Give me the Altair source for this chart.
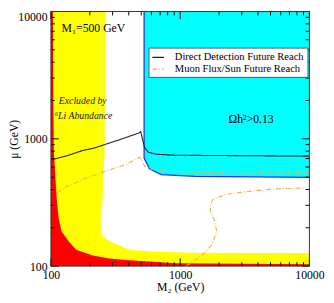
import altair as alt
import pandas as pd

# ---------------- data ----------------
# red excluded region: upper edge mu (GeV) as a function of M2 (GeV)
red_m2 = [100, 103.5, 104.4, 105.3, 109, 111, 115, 121, 137, 157, 211, 284, 408, 925, 10000]
red_mu = [10000, 10000, 1906, 797, 448, 333, 235, 187, 157, 134.5, 121, 115, 111, 105.4, 103.5]

# yellow (6Li abundance) region: lower branch (filled down to mu=100)
yellow_lo_m2 = [100, 242.9, 243, 251, 284, 356, 408, 653, 1309, 10000]
yellow_lo_mu = [10000, 10000, 190.6, 171.7, 157, 141.8, 134.5, 129.9, 127.6, 126.6]
# yellow upper branch (filled up to mu=10000)
yellow_hi_m2 = [243, 251, 260, 262, 264.6]
yellow_hi_mu = [190.6, 333, 797, 1906, 10000]

# cyan (Omega h^2 > 0.13) region lower boundary
cyan_m2 = [526, 578, 713, 1309, 10000]
cyan_mu = [705, 582, 524, 507, 498]

# direct detection future reach
dd_m2 = [100, 136.7, 177, 211, 274, 356, 478, 495, 530, 569, 653, 925, 10000]
dd_mu = [681, 743, 811, 840, 916, 1000, 1110, 1140, 855, 783, 756, 743, 731]

# muon flux / sun future reach (two branches)
muon1_m2 = [111, 130, 184, 260, 388, 486, 530, 578, 778, 2624, 10000]
muon1_mu = [376, 418, 489, 553, 635, 718, 614, 582, 553, 538, 543]
muon2_m2 = [1100, 1140, 1309, 1557, 1758, 1919, 1853, 1729, 1700, 1790, 2205, 3120, 5260, 9330]
muon2_mu = [100, 102, 111, 128, 147, 187, 223, 266, 295, 333, 364, 383, 404, 411]

series_names = ["Direct Detection Future Reach", "Muon Flux/Sun Future Reach"]
tick_labels = [100, 1000, 10000]
minor_ticks = [200, 300, 400, 500, 600, 700, 800, 900, 2000, 3000, 4000, 5000, 6000, 7000, 8000, 9000]

# ---------------- chart ----------------
W, H = 265, 261
FONT = "Liberation Serif"
xs = alt.Scale(type="log", domain=[100, 10000], nice=False)
ys = alt.Scale(type="log", domain=[100, 10000], nice=False)

xaxis = alt.Axis(values=tick_labels, format="d", title="M₂ (GeV)", ticks=False, domain=False,
                 grid=False, labelFlush=False, labelOverlap=False, labelPadding=4, titlePadding=1,
                 labelFont=FONT, labelFontSize=12, titleFont=FONT, titleFontSize=12,
                 titleFontWeight="normal", labelColor="black", titleColor="black")
yaxis = alt.Axis(values=tick_labels, format="d", title="μ (GeV)", ticks=False, domain=False,
                 grid=False, labelFlush=False, labelOverlap=False, labelPadding=4,
                 labelBaseline={"condition": {"test": "datum.value >= 10000", "value": "top"}, "value": "middle"},
                 labelFont=FONT, labelFontSize=12, titleFont=FONT, titleFontSize=12,
                 titleFontWeight="normal", labelColor="black", titleColor="black",
                 titleX=-38, titleY=H / 2, titleAngle=270, titleBaseline="middle", titleAlign="center")


def X(f="x"):
    return alt.X(f"{f}:Q", scale=xs, axis=xaxis)


def Y(f="y"):
    return alt.Y(f"{f}:Q", scale=ys, axis=yaxis)


def area(m2, mu, base, color):
    df = pd.DataFrame({"x": m2, "y": mu, "y2": base})
    return alt.Chart(df).mark_area(color=color, clip=True).encode(x=X(), y=Y(), y2="y2:Q")


yellow_lo = area(yellow_lo_m2, yellow_lo_mu, 100, "#FFFF00")
yellow_hi = area(yellow_hi_m2, yellow_hi_mu, 10000, "#FFFF00")
red = area(red_m2, red_mu, 100, "#FF0000")
cyan = area(cyan_m2, cyan_mu, 10000, "#00FFFF")

blue_df = pd.DataFrame({"x": [cyan_m2[0]] + cyan_m2, "y": [10000] + cyan_mu, "i": range(len(cyan_m2) + 1)})
blue = alt.Chart(blue_df).mark_line(color="#2233EE", strokeWidth=1.3, clip=True).encode(
    x=X(), y=Y(), order="i:Q")

rows = []
for i, (a, b) in enumerate(zip(dd_m2, dd_mu)):
    rows.append({"x": a, "y": b, "series": series_names[0], "seg": "dd", "i": i})
for i, (a, b) in enumerate(zip(muon1_m2, muon1_mu)):
    rows.append({"x": a, "y": b, "series": series_names[1], "seg": "m1", "i": i})
for i, (a, b) in enumerate(zip(muon2_m2, muon2_mu)):
    rows.append({"x": a, "y": b, "series": series_names[1], "seg": "m2", "i": i})
lines_df = pd.DataFrame(rows)

leg = alt.Legend(title=None, orient="none", legendX=100, legendY=37, fillColor="white",
                 strokeColor="#555555", padding=3, symbolType="stroke", symbolSize=144,
                 symbolStrokeWidth=1.2, labelFont=FONT, labelFontSize=10.8, labelOffset=10,
                 rowPadding=0, labelColor="black", cornerRadius=0)
lines = alt.Chart(lines_df).mark_line(strokeWidth=1.1, clip=True).encode(
    x=X(), y=Y(),
    color=alt.Color("series:N", scale=alt.Scale(domain=series_names, range=["#222222", "#F8AE48"]), legend=leg),
    strokeDash=alt.StrokeDash("series:N", scale=alt.Scale(domain=series_names, range=[[1, 0], [5, 2, 1, 2]]), legend=leg),
    detail="seg:N", order="i:Q")

txt_plain = pd.DataFrame({"x": [121, 2366], "y": [7430, 1419], "t": ["M₁=500 GeV", "Ωh²>0.13"]})
txt_ital = pd.DataFrame({"x": [115, 107], "y": [1972, 1521], "t": ["Excluded by", "⁶Li Abundance"]})
texts1 = alt.Chart(txt_plain).mark_text(align="left", baseline="middle", font=FONT, fontSize=12,
                                         color="black").encode(x=X(), y=Y(), text="t:N")
texts2 = alt.Chart(txt_ital).mark_text(align="left", baseline="middle", font=FONT, fontSize=10,
                                        fontStyle="italic", color="#222222").encode(x=X(), y=Y(), text="t:N")


def tick_layers(vals, L):
    dx = pd.DataFrame({"x": vals})
    dy = pd.DataFrame({"y": vals})
    base = dict(color="black", strokeWidth=1)
    return [
        alt.Chart(dy).mark_rule(**base).encode(y=Y(), x=alt.value(0), x2=alt.value(L)),
        alt.Chart(dy).mark_rule(**base).encode(y=Y(), x=alt.value(W - L), x2=alt.value(W)),
        alt.Chart(dx).mark_rule(**base).encode(x=X(), y=alt.value(H), y2=alt.value(H - L)),
        alt.Chart(dx).mark_rule(**base).encode(x=X(), y=alt.value(0), y2=alt.value(L)),
    ]


frame = alt.Chart(pd.DataFrame({"a": [0]})).mark_rect(filled=False, stroke="#333333", strokeWidth=1).encode(
    x=alt.value(0), x2=alt.value(W), y=alt.value(0), y2=alt.value(H))

chart = alt.layer(
    yellow_lo, yellow_hi, red, cyan, blue, lines, texts1, texts2,
    *tick_layers(tick_labels, 8), *tick_layers(minor_ticks, 4), frame
).properties(
    width=W, height=H,
    autosize=alt.AutoSizeParams(type="none"),
    padding={"left": 44, "top": 0, "right": 17, "bottom": 26},
).configure_view(stroke="transparent")

chart.save("out.html", embed_options={"renderer": "svg", "actions": False})
